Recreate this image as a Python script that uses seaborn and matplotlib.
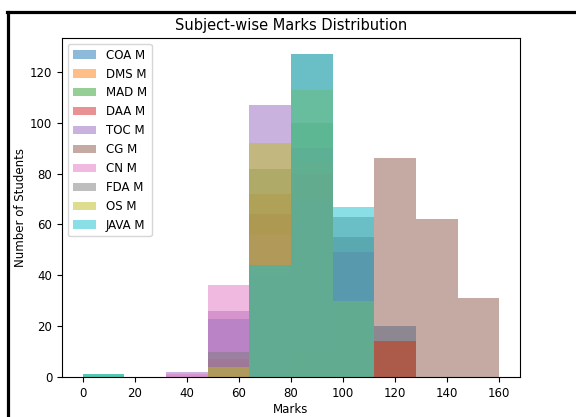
import matplotlib
matplotlib.use("Agg")
import matplotlib.pyplot as plt
from matplotlib.lines import Line2D
import numpy as np
import seaborn as sns

# Shared bin edges (marks) and bin centres
bin_edges = [0, 16, 32, 48, 64, 80, 96, 112, 128, 144, 160]
bin_centres = [8, 24, 40, 56, 72, 88, 104, 120, 136, 152]

subjects = ["COA M", "DMS M", "MAD M", "DAA M", "TOC M",
            "CG M", "CN M", "FDA M", "OS M", "JAVA M"]

# Number of students per bin
coa_m  = [0, 0, 0, 23, 40, 90, 49, 20, 0, 0]
dms_m  = [0, 0, 0, 0, 72, 85, 30, 14, 0, 0]
mad_m  = [1, 0, 0, 0, 44, 100, 30, 0, 0, 0]
daa_m  = [0, 0, 0, 7, 64, 80, 49, 14, 0, 0]
toc_m  = [0, 0, 2, 26, 107, 70, 49, 0, 0, 0]
cg_m   = [0, 0, 0, 0, 0, 10, 55, 86, 62, 31]
cn_m   = [0, 0, 1, 36, 56, 90, 49, 0, 0, 0]
fda_m  = [0, 0, 0, 10, 82, 127, 63, 0, 0, 0]
os_m   = [0, 0, 0, 4, 92, 113, 30, 0, 0, 0]
java_m = [1, 0, 0, 0, 44, 127, 67, 0, 0, 0]

series = [coa_m, dms_m, mad_m, daa_m, toc_m, cg_m, cn_m, fda_m, os_m, java_m]
colors = plt.rcParams["axes.prop_cycle"].by_key()["color"]

fig = plt.figure(figsize=(5.76, 4.17), dpi=100)
ax = fig.add_axes([0.1076, 0.0959, 0.7952, 0.8130])

for name, counts, col in zip(subjects, series, colors):
    sns.histplot(x=bin_centres, weights=counts, bins=bin_edges, ax=ax,
                 color=col, alpha=0.5, linewidth=0, label=name)

ax.set_title("Subject-wise Marks Distribution", fontsize=10.5)
ax.set_xlabel("Marks", fontsize=8.5, labelpad=2)
ax.set_ylabel("Number of Students", fontsize=8.5, labelpad=2)
ax.tick_params(labelsize=8.5)
ax.set_xticks([0, 20, 40, 60, 80, 100, 120, 140, 160])
ax.legend(loc="upper left", fontsize=8.5)

# screenshot frame
fig.add_artist(Line2D([7 / 576, 1], [1 - 11.5 / 417, 1 - 11.5 / 417],
                      transform=fig.transFigure, color="black", linewidth=2.3))
fig.add_artist(Line2D([7.5 / 576, 7.5 / 576], [0, 1 - 11.5 / 417],
                      transform=fig.transFigure, color="black", linewidth=2.3))

fig.savefig("out.png", dpi=100)
